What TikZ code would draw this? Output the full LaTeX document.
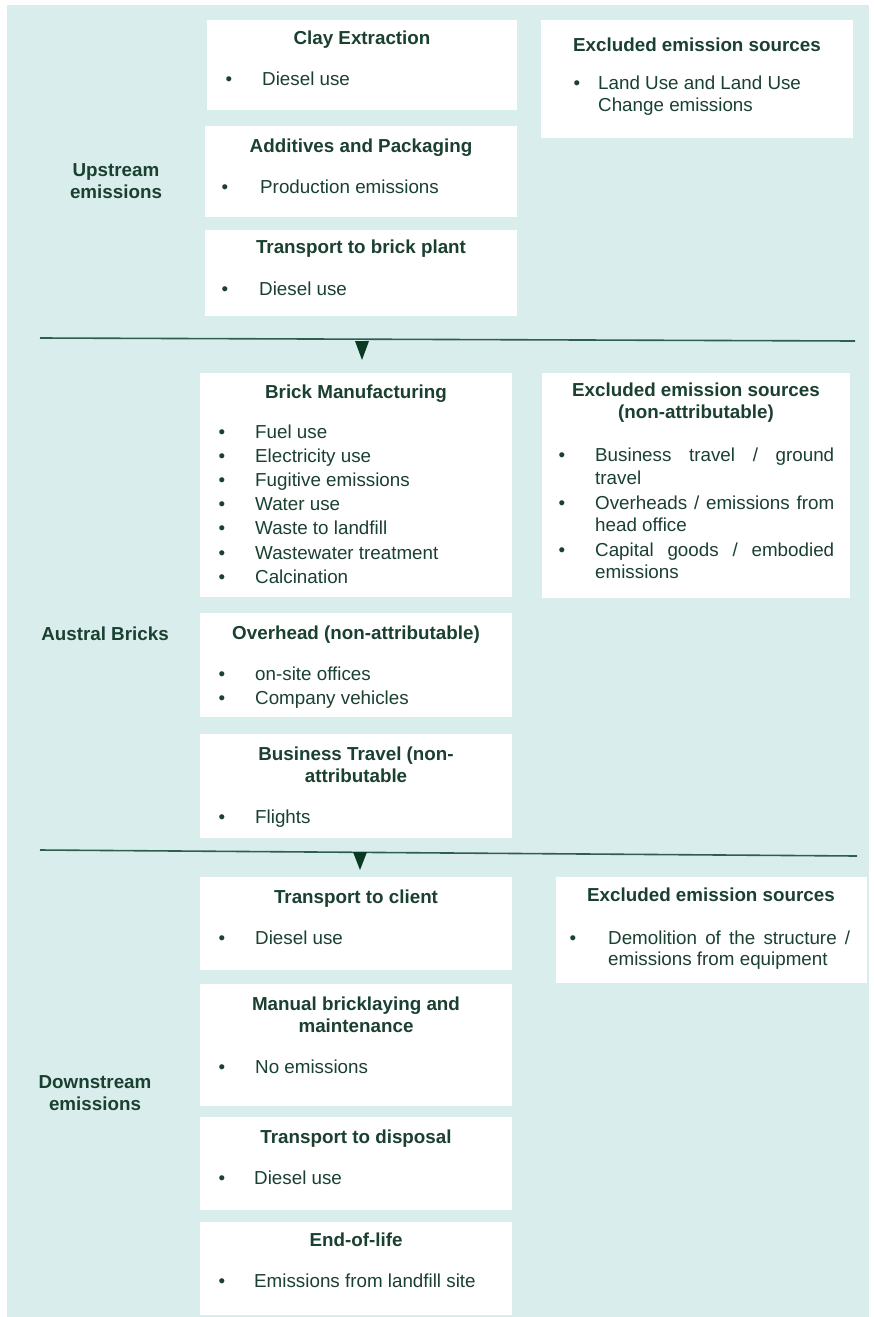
\documentclass[tikz,border=0pt]{standalone}
\usepackage{fontspec}
\setmainfont{Liberation Sans}
\usetikzlibrary{calc}
\definecolor{panel}{HTML}{DAEDED}
\definecolor{txt}{HTML}{1A4030}
\definecolor{tri}{HTML}{0B3A24}
\definecolor{rule}{HTML}{2E5E4C}
\newcommand\hfnt{\fontsize{18.8}{22}\selectfont\bfseries}
\newcommand\ifnt{\fontsize{18.8}{22}\selectfont}
\begin{document}
\begin{tikzpicture}[x=1pt,y=-1pt,
  wbox/.style={fill=white,draw=none,inner sep=0pt,anchor=north west,outer sep=0pt},
  head/.style={font=\hfnt,text=txt,align=center,anchor=base,inner sep=0pt},
  lbl/.style={font=\hfnt,text=txt,align=center,anchor=center,inner sep=0pt},
  bul/.style={font=\ifnt,text=txt,anchor=base,inner sep=0pt},
  itm/.style={font=\ifnt,text=txt,anchor=base west,inner sep=0pt},
  sep/.style={draw=rule,line width=1.6pt},
  arr/.style={fill=tri,draw=none}]
\useasboundingbox (0,0) rectangle (874,1317);
\fill[panel] (7,5) rectangle (869,1317);

% ---------- Upstream ----------
\node[wbox,minimum width=310pt,minimum height=90pt] (clay) at (207,20) {};
\node[head] (clayh) at (362,44) {Clay Extraction};
\node[bul] (clayb1) at (229,85) {•};
\node[itm] (clayi1) at (262,85) {Diesel use};

\node[wbox,minimum width=312pt,minimum height=91pt] (add) at (205,126) {};
\node[head] (addh) at (361,152) {Additives and Packaging};
\node[bul] (addb1) at (225,193) {•};
\node[itm] (addi1) at (260,193) {Production emissions};

\node[wbox,minimum width=312pt,minimum height=86pt] (tbp) at (205,230) {};
\node[head] (tbph) at (361,253) {Transport to brick plant};
\node[bul] (tbpb1) at (225,295) {•};
\node[itm] (tbpi1) at (259,295) {Diesel use};

\node[wbox,minimum width=312pt,minimum height=118pt] (ex1) at (541,20) {};
\node[head] (ex1h) at (697,51) {Excluded emission sources};
\node[bul] (ex1b1) at (577,89) {•};
\node[itm] (ex1i1) at (598,89) {Land Use and Land Use};
\node[itm] (ex1i2) at (598,111) {Change emissions};

\node[lbl] (up) at (116,181) {Upstream\\emissions};

\coordinate (l1a) at (40,338);
\coordinate (l1b) at (855,341);
\draw[sep] (l1a) -- (l1b);
\coordinate (t1) at (362,341);
\fill[arr] ($(t1)+(-7,0)$) -- ($(t1)+(7,0)$) -- ($(t1)+(0,19)$) -- cycle;

% ---------- Austral Bricks ----------
\node[wbox,minimum width=312pt,minimum height=224pt] (brick) at (200,373) {};
\node[head] (brickh) at (356,398) {Brick Manufacturing};
\foreach \t [count=\k from 0] in {Fuel use,Electricity use,Fugitive emissions,Water use,Waste to landfill,Wastewater treatment,Calcination}{
  \node[bul] (brickb\k) at (222,{438+24.2*\k}) {•};
  \node[itm] (bricki\k) at (255,{438+24.2*\k}) {\t};
}

\node[wbox,minimum width=308pt,minimum height=225pt] (ex2) at (542,373) {};
\node[head] (ex2h) at (696,418) {Excluded emission sources\\(non-attributable)};
\node[bul] (ex2b1) at (562,461) {•};
\node[itm] (ex2i1) at (595,461) {\makebox[239pt][s]{Business travel / ground}};
\node[itm] (ex2i2) at (595,484) {travel};
\node[bul] (ex2b2) at (562,509) {•};
\node[itm] (ex2i3) at (595,509) {\makebox[239pt][s]{Overheads / emissions from}};
\node[itm] (ex2i4) at (595,531) {head office};
\node[bul] (ex2b3) at (562,556) {•};
\node[itm] (ex2i5) at (595,556) {\makebox[239pt][s]{Capital goods / embodied}};
\node[itm] (ex2i6) at (595,578) {emissions};

\node[wbox,minimum width=312pt,minimum height=104pt] (ovh) at (200,613) {};
\node[head] (ovhh) at (356,639) {Overhead (non-attributable)};
\node[bul] (ovhb1) at (222,680) {•};
\node[itm] (ovhi1) at (255,680) {on-site offices};
\node[bul] (ovhb2) at (222,704) {•};
\node[itm] (ovhi2) at (255,704) {Company vehicles};

\node[wbox,minimum width=312pt,minimum height=104pt] (bt) at (200,734) {};
\node[head] (bth) at (356,782) {Business Travel (non-\\attributable};
\node[bul] (btb1) at (222,823) {•};
\node[itm] (bti1) at (255,823) {Flights};

\node[lbl] (ab) at (105,634) {Austral Bricks};

\coordinate (l2a) at (40,850);
\coordinate (l2b) at (857,856);
\draw[sep] (l2a) -- (l2b);
\coordinate (t2) at (360,852);
\fill[arr] ($(t2)+(-7,0)$) -- ($(t2)+(7,0)$) -- ($(t2)+(0,18)$) -- cycle;

% ---------- Downstream ----------
\node[wbox,minimum width=312pt,minimum height=93pt] (tc) at (200,877) {};
\node[head] (tch) at (356,903) {Transport to client};
\node[bul] (tcb1) at (222,944) {•};
\node[itm] (tci1) at (255,944) {Diesel use};

\node[wbox,minimum width=311pt,minimum height=106pt] (ex3) at (556,877) {};
\node[head] (ex3h) at (711,901) {Excluded emission sources};
\node[bul] (ex3b1) at (573,944) {•};
\node[itm] (ex3i1) at (608,944) {\makebox[242pt][s]{Demolition of the structure /}};
\node[itm] (ex3i2) at (608,965) {emissions from equipment};

\node[wbox,minimum width=312pt,minimum height=122pt] (mb) at (200,984) {};
\node[head] (mbh) at (356,1032) {Manual bricklaying and\\maintenance};
\node[bul] (mbb1) at (222,1073) {•};
\node[itm] (mbi1) at (255,1073) {No emissions};

\node[wbox,minimum width=312pt,minimum height=93pt] (td) at (200,1117) {};
\node[head] (tdh) at (356,1143) {Transport to disposal};
\node[bul] (tdb1) at (222,1184) {•};
\node[itm] (tdi1) at (254,1184) {Diesel use};

\node[wbox,minimum width=312pt,minimum height=93pt] (eol) at (200,1222) {};
\node[head] (eolh) at (356,1246) {End-of-life};
\node[bul] (eolb1) at (222,1287) {•};
\node[itm] (eoli1) at (254,1287) {Emissions from landfill site};

\node[lbl] (ds) at (95,1093) {Downstream\\emissions};
\end{tikzpicture}
\end{document}
